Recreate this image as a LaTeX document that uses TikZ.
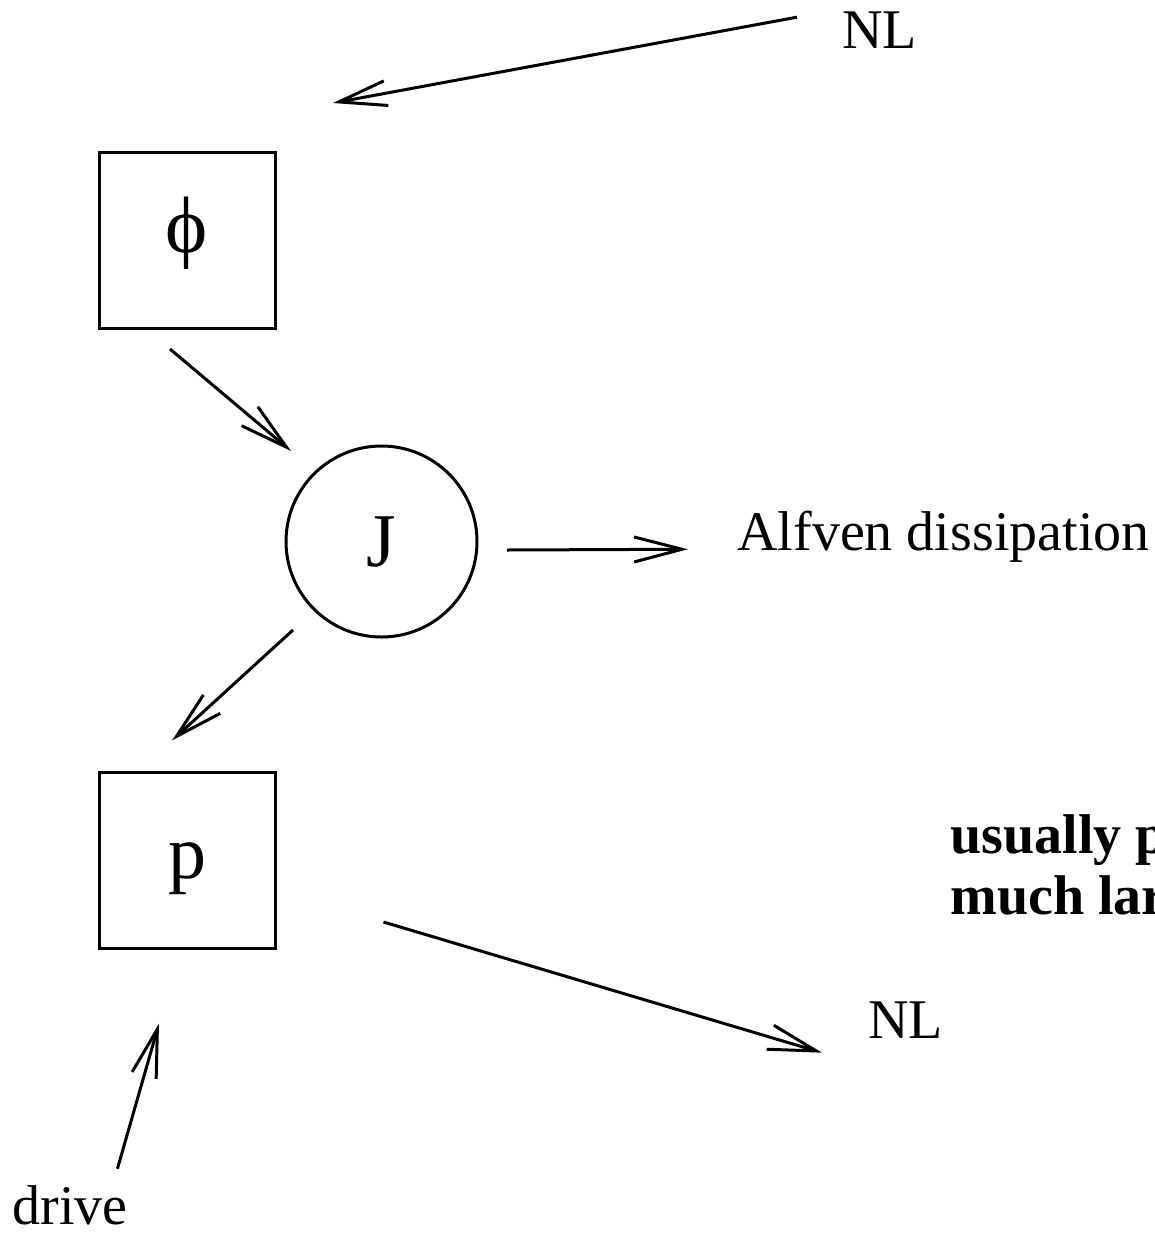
\documentclass[tikz,border=0pt]{standalone}
\usepackage{fontspec}
\setmainfont{Liberation Serif}
\usetikzlibrary{arrows.meta,calc}

\begin{document}
\begin{tikzpicture}[x=0.5pt,y=-0.5pt,
		flow/.style={line width=1.5pt,-{Straight Barb[length=24pt,width=12.5pt]}},
		box/.style={draw,line width=1.5pt,minimum width=88pt,minimum height=88pt,inner sep=0pt,text height=26.6pt,text depth=8.4pt,font=\fontsize{38}{40}\selectfont},
		ring/.style={draw,circle,line width=1.5pt,minimum size=95.5pt,inner sep=0pt,font=\fontsize{38}{40}\selectfont},
		lbl/.style={inner sep=0pt,anchor=base west,font=\fontsize{28}{30}\selectfont},
		boldlbl/.style={lbl,font=\bfseries\fontsize{28}{30}\selectfont}]
			%%%%% START %%%%%
			
			\useasboundingbox (0,0) rectangle (1155,1237);
			\clip (0,0) rectangle (1155,1237);
			
			\node[box,text height=20.5pt,font=\fontsize{40}{42}\selectfont] (phi) at (187,240.5) {ϕ};
			\node[ring] (J) at (381.5,541.5) {J};
			\node[box] (p) at (187,860) {p};
			
			\node[lbl] (nltop) at (842,48) {NL};
			\node[lbl] (alfven) at (737,550) {Alfven dissipation};
			\node[lbl] (nlbot) at (868,1038) {NL};
			\node[lbl] (drive) at (12,1224) {drive};
			
			\node[boldlbl] (usually) at (950,853) {usually p};
			\node[boldlbl] (much) at (950,914) {much lar};
			
			\draw[flow] ([shift={(-45,-12.5)}]nltop.west) -- ([shift={(146,-48)}]phi.north);
			\draw[flow] ([shift={(-17,19)}]phi.south) -- ([shift={(-90.5,-90.5)}]J.center);
			\draw[flow] ([shift={(125.5,8.5)}]J.center) -- ([shift={(-49,13)}]alfven.west);
			\draw[flow] ([shift={(-88.5,88.5)}]J.center) -- ([shift={(-15,-30)}]p.north);
			\draw[flow] ([shift={(107,62)}]p.east) -- ([shift={(-46,33)}]nlbot.west);
			\draw[flow] ([shift={(47.5,-16)}]drive.north) -- ([shift={(-28,74)}]p.south);
			
			%%%%% END %%%%%
\end{tikzpicture}
\end{document}
